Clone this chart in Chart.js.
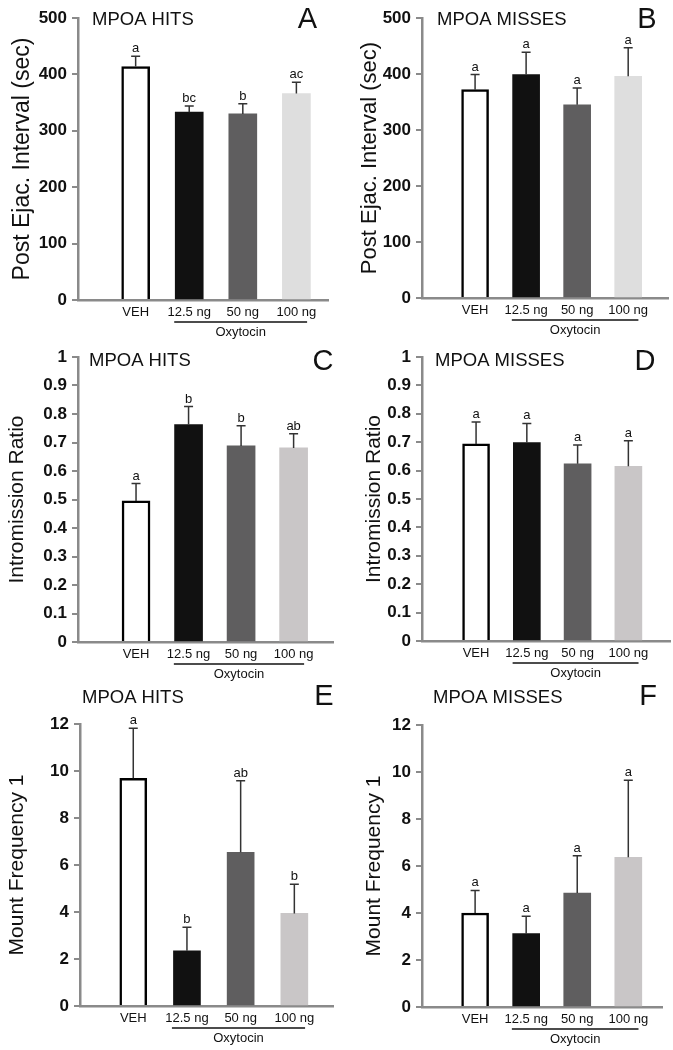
<!DOCTYPE html>
<html>
<head>
<meta charset="utf-8">
<script src="https://cdn.jsdelivr.net/npm/chart.js@4.4.0/dist/chart.umd.min.js"></script>
<style>
body { margin: 0; background: #fff; }
#wrap { position: relative; width: 673px; height: 1050px; }
#wrap canvas { position: absolute; }
</style>
</head>
<body>
<div id="wrap">
  <canvas id="cA"></canvas>
  <canvas id="cB"></canvas>
  <canvas id="cC"></canvas>
  <canvas id="cD"></canvas>
  <canvas id="cE"></canvas>
  <canvas id="cF"></canvas>
</div>
<script>
// groups on the x axis
var doses = ['VEH', '12.5 ng', '50 ng', '100 ng'];
var slots = [1, 2, 3, 4];

// post ejaculatory interval (sec), mean and SEM
var peiHits = [414, 333, 330, 366];
var peiHitsSem = [18, 11, 18, 20];
var peiHitsSig = ['a', 'bc', 'b', 'ac'];
var peiMisses = [372, 399, 345, 396];
var peiMissesSem = [27, 40, 30, 51];
var peiMissesSig = ['a', 'a', 'a', 'a'];

// intromission ratio
var irHits = [0.495, 0.763, 0.688, 0.681];
var irHitsSem = [0.061, 0.063, 0.071, 0.05];
var irHitsSig = ['a', 'b', 'b', 'ab'];
var irMisses = [0.694, 0.699, 0.624, 0.615];
var irMissesSem = [0.077, 0.067, 0.066, 0.09];
var irMissesSig = ['a', 'a', 'a', 'a'];

// mount frequency 1
var mfHits = [9.69, 2.35, 6.54, 3.94];
var mfHitsSem = [2.13, 1.0, 3.05, 1.24];
var mfHitsSig = ['a', 'b', 'ab', 'b'];
var mfMisses = [4.0, 3.12, 4.85, 6.37];
var mfMissesSem = [0.96, 0.74, 1.59, 3.28];
var mfMissesSig = ['a', 'a', 'a', 'a'];

// y tick values
var peiTicks = [0, 100, 200, 300, 400, 500];
var irTicks = [0, 0.1, 0.2, 0.3, 0.4, 0.5, 0.6, 0.7, 0.8, 0.9, 1];
var mfTicks = [0, 2, 4, 6, 8, 10, 12];

var FONT = 'Arial, "Liberation Sans", sans-serif';
var AXIS = '#8a8a8a';
var colsTop = ['#ffffff', '#111111', '#5f5e5f', '#dedede'];
var colsLow = ['#ffffff', '#111111', '#5f5e5f', '#c9c6c7'];

var extras = {
  id: 'extras',
  afterDatasetsDraw: function(chart, args, o) {
    var c = chart.ctx, xs = chart.scales.x, ys = chart.scales.y;
    var bars = chart.getDatasetMeta(0).data;
    c.save();
    c.strokeStyle = '#333';
    c.lineWidth = 1.5;
    c.fillStyle = '#111';
    c.font = '13px ' + FONT;
    c.textAlign = 'center';
    c.textBaseline = 'alphabetic';
    bars.forEach(function(b, i) {
      var top = ys.getPixelForValue(o.means[i] + o.sem[i]);
      c.beginPath();
      c.moveTo(b.x, b.y);
      c.lineTo(b.x, top);
      c.moveTo(b.x - 4.5, top);
      c.lineTo(b.x + 4.5, top);
      c.stroke();
      c.fillText(o.sig[i], b.x, top - 4);
    });
    // oxytocin bracket
    var x0 = xs.getPixelForValue(1.72), x1 = xs.getPixelForValue(4.2);
    var yl = xs.top + 22;
    c.strokeStyle = '#111';
    c.lineWidth = 1.5;
    c.beginPath();
    c.moveTo(x0, yl);
    c.lineTo(x1, yl);
    c.stroke();
    c.textBaseline = 'middle';
    c.fillText('Oxytocin', (x0 + x1) / 2, xs.top + 32);
    // panel headings
    c.textAlign = 'left';
    c.font = '18.5px ' + FONT;
    c.fillText(o.head, o.headAt[0], o.headAt[1]);
    c.textAlign = 'center';
    c.font = '29px ' + FONT;
    c.fillText(o.letter, o.letterAt[0], o.letterAt[1]);
    c.restore();
  }
};

function makePanel(p) {
  var cv = document.getElementById(p.id);
  cv.width = p.box[2];
  cv.height = p.box[3];
  cv.style.left = p.box[0] + 'px';
  cv.style.top = p.box[1] + 'px';
  cv.style.width = p.box[2] + 'px';
  cv.style.height = p.box[3] + 'px';
  var a = p.area;
  var yW = a[0] - p.box[0];
  var xH = p.box[1] + p.box[3] - a[3];
  return new Chart(cv.getContext('2d'), {
    type: 'bar',
    data: {
      datasets: [{
        data: slots.map(function(s, i) { return { x: s, y: p.means[i] }; }),
        backgroundColor: p.colors,
        borderColor: '#000',
        borderWidth: [2.5, 0, 0, 0],
        barThickness: p.bar
      }]
    },
    options: {
      responsive: false,
      animation: false,
      layout: { padding: { left: 0, top: a[1] - p.box[1], right: p.box[0] + p.box[2] - a[2], bottom: 0 } },
      plugins: {
        legend: { display: false },
        tooltip: { enabled: false },
        extras: {
          means: p.means, sem: p.sem, sig: p.sig,
          head: p.head, headAt: p.headAt, letter: p.letter, letterAt: p.letterAt
        }
      },
      scales: {
        x: {
          type: 'linear',
          offset: false,
          min: p.xr[0],
          max: p.xr[1],
          afterBuildTicks: function(s) { s.ticks = slots.map(function(v) { return { value: v }; }); },
          afterFit: function(s) { s.height = xH; },
          grid: { display: false, drawTicks: false },
          border: { display: true, color: AXIS, width: 2.5 },
          ticks: {
            autoSkip: false, maxRotation: 0, padding: 5, color: '#111',
            font: { size: 13, family: FONT },
            callback: function(v) { return doses[slots.indexOf(v)]; }
          }
        },
        y: {
          min: p.ticks[0],
          max: p.ticks[p.ticks.length - 1],
          afterBuildTicks: function(s) { s.ticks = p.ticks.map(function(v) { return { value: v }; }); },
          afterFit: function(s) { s.width = yW; },
          grid: { drawOnChartArea: false, drawTicks: true, tickLength: 6, color: AXIS, lineWidth: 2 },
          border: { color: AXIS, width: 2.5 },
          ticks: {
            padding: 5, color: '#111',
            font: { size: 17, weight: 'bold', family: FONT },
            callback: function(v) { return String(v); }
          },
          title: {
            display: true, text: p.ytitle, color: '#111',
            font: { size: p.tsize, family: FONT },
            padding: { top: p.tpad, bottom: 0 }
          }
        }
      }
    },
    plugins: [extras]
  });
}

makePanel({ id: 'cA', box: [0, 0, 336, 340], area: [78, 18, 328, 300], xr: [-0.076, 4.59], bar: 28,
  means: peiHits, sem: peiHitsSem, sig: peiHitsSig, ticks: peiTicks, colors: colsTop,
  ytitle: 'Post Ejac. Interval (sec)', tsize: 23, tpad: 9,
  head: 'MPOA HITS', headAt: [92, 20], letter: 'A', letterAt: [307.5, 20] });
makePanel({ id: 'cB', box: [336, 0, 337, 340], area: [422, 18, 668, 298], xr: [-0.04, 4.78], bar: 27,
  means: peiMisses, sem: peiMissesSem, sig: peiMissesSig, ticks: peiTicks, colors: colsTop,
  ytitle: 'Post Ejac. Interval (sec)', tsize: 22, tpad: 21,
  head: 'MPOA MISSES', headAt: [101, 20], letter: 'B', letterAt: [311, 20] });
makePanel({ id: 'cC', box: [0, 340, 336, 345], area: [78, 357, 333, 642], xr: [-0.105, 4.75], bar: 28,
  means: irHits, sem: irHitsSem, sig: irHitsSig, ticks: irTicks, colors: colsLow,
  ytitle: 'Intromission Ratio', tsize: 21, tpad: 5,
  head: 'MPOA HITS', headAt: [89, 21], letter: 'C', letterAt: [323, 22] });
makePanel({ id: 'cD', box: [336, 340, 337, 345], area: [422, 357, 670, 641], xr: [-0.065, 4.82], bar: 27,
  means: irMisses, sem: irMissesSem, sig: irMissesSig, ticks: irTicks, colors: colsLow,
  ytitle: 'Intromission Ratio', tsize: 21, tpad: 26,
  head: 'MPOA MISSES', headAt: [99, 21], letter: 'D', letterAt: [309, 22] });
makePanel({ id: 'cE', box: [0, 685, 336, 365], area: [80, 724, 333, 1006], xr: [0.008, 4.72], bar: 27,
  means: mfHits, sem: mfHitsSem, sig: mfHitsSig, ticks: mfTicks, colors: colsLow,
  ytitle: 'Mount Frequency 1', tsize: 21, tpad: 5,
  head: 'MPOA HITS', headAt: [82, 13], letter: 'E', letterAt: [324, 12] });
makePanel({ id: 'cF', box: [336, 685, 337, 365], area: [422, 725, 662, 1007], xr: [-0.04, 4.66], bar: 27,
  means: mfMisses, sem: mfMissesSem, sig: mfMissesSig, ticks: mfTicks, colors: colsLow,
  ytitle: 'Mount Frequency 1', tsize: 21, tpad: 26,
  head: 'MPOA MISSES', headAt: [97, 13], letter: 'F', letterAt: [312, 12] });
</script>
</body>
</html>
